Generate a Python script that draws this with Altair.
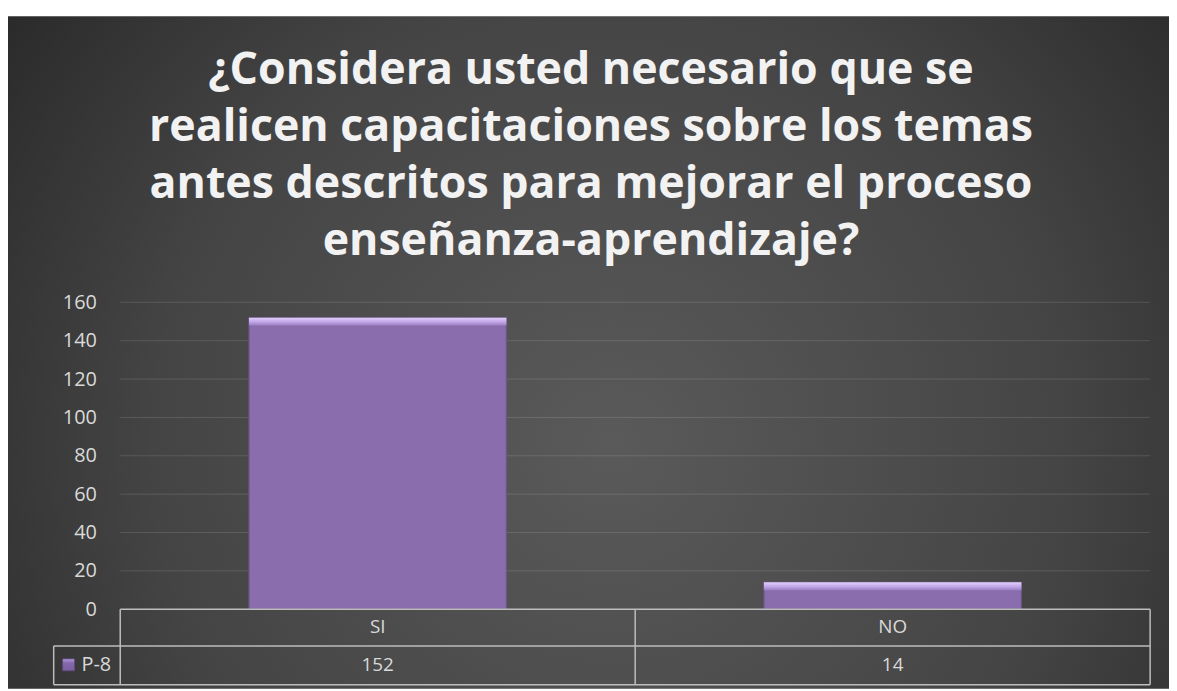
import altair as alt
import pandas as pd

# ---- data ----
categories = ["SI", "NO"]
values = [152, 14]
series_name = "P-8"
y_ticks = [0, 20, 40, 60, 80, 100, 120, 140, 160]
title_lines = [
    "¿Considera usted necesario que se",
    "realicen capacitaciones sobre los temas",
    "antes descritos para mejorar el proceso",
    "enseñanza-aprendizaje?",
]

df = pd.DataFrame({"cat": categories, "val": values, "serie": [series_name] * len(categories)})
grid_df = pd.DataFrame({"val": y_ticks[1:]})
one = alt.Data(values=[{"k": 1}])

W, H = 1037, 309
PAD = {"left": 113, "top": 294, "right": 19, "bottom": 80}
FONT = "Open Sans"
TXT = "#d9d9d9"
LINE = "#bdbdbd"

x_enc = alt.X("cat:N", sort=categories, axis=None,
              scale=alt.Scale(paddingInner=0.5, paddingOuter=0.25))
y_scale = alt.Scale(domain=[0, 160], nice=False)
y_axis = alt.Axis(values=y_ticks, title=None, domain=False, ticks=False, grid=False,
                  labelColor=TXT, labelFontSize=20, labelFont=FONT, labelPadding=24, zindex=2)
y_enc = alt.Y("val:Q", scale=y_scale, axis=y_axis)

# background (radial gradient)
bg = alt.Chart(one).mark_rect(
    fill=alt.RadialGradient(
        gradient="radial", x1=0.52, y1=0.58, r1=0, x2=0.52, y2=0.58, r2=0.72,
        stops=[alt.GradientStop(offset=0, color="#5a5a5a"),
               alt.GradientStop(offset=0.55, color="#444444"),
               alt.GradientStop(offset=1, color="#222222")],
    )
).encode(x=alt.value(-PAD["left"]), x2=alt.value(W + PAD["right"]),
         y=alt.value(-288), y2=alt.value(H + PAD["bottom"]))

# gridlines
grid = alt.Chart(grid_df).mark_rule(color="#ffffff", opacity=0.13, strokeWidth=1).encode(
    y=y_enc, x=alt.value(0), x2=alt.value(W),
)

bars = alt.Chart(df).mark_bar(fill="#8a6dac", stroke="#6a5488", strokeWidth=1.2).encode(
    x=x_enc, y=y_enc,
)

bevel = alt.Chart(df).mark_bar(
    y2Offset=8,
    fill=alt.LinearGradient(
        gradient="linear", x1=0, y1=0, x2=0, y2=1,
        stops=[alt.GradientStop(offset=0, color="#e2cffa"),
               alt.GradientStop(offset=0.5, color="#c3a8ea"),
               alt.GradientStop(offset=1, color="#9a7fc0")],
    ),
).encode(x=x_enc, y=y_enc, y2=alt.Y2("val:Q"))

# title
title = alt.Chart(one).mark_text(
    font=FONT, fontSize=45, fontWeight="bold", color="#f2f2f2",
    align="center", baseline="alphabetic", lineBreak="\n", lineHeight=57.5,
).encode(x=alt.value(474), y=alt.value(-220), text=alt.value("\n".join(title_lines)))

# data table lines
def rule(x1, x2, y1, y2):
    return alt.Chart(one).mark_rule(color=LINE, strokeWidth=1.5).encode(
        x=alt.value(x1), x2=alt.value(x2), y=alt.value(y1), y2=alt.value(y2))

table_lines = [
    rule(0, W, H, H),
    rule(-67, W, 346, 346),
    rule(-67, W, 385, 385),
    rule(-67, -67, 346, 385),
    rule(0, 0, H, 385),
    rule(W / 2, W / 2, H, 385),
    rule(W, W, H, 385),
]

cat_text = alt.Chart(df).mark_text(font=FONT, fontSize=19, color=TXT, baseline="middle").encode(
    x=x_enc, y=alt.value(327), text="cat:N")
val_text = alt.Chart(df).mark_text(font=FONT, fontSize=19, color=TXT, baseline="middle").encode(
    x=x_enc, y=alt.value(365), text="val:Q")

legend_key = alt.Chart(one).mark_rect(
    stroke="#5e4a7e", strokeWidth=0.8,
    fill=alt.LinearGradient(
        gradient="linear", x1=0, y1=0, x2=0, y2=1,
        stops=[alt.GradientStop(offset=0, color="#b79be0"),
               alt.GradientStop(offset=0.35, color="#8468ab"),
               alt.GradientStop(offset=1, color="#7a5ea0")],
    ),
).encode(x=alt.value(-58), x2=alt.value(-46), y=alt.value(359), y2=alt.value(371))

legend_text = alt.Chart(df.head(1)).mark_text(
    font=FONT, fontSize=20, color=TXT, align="left", baseline="middle"
).encode(x=alt.value(-39), y=alt.value(365), text="serie:N")

chart = alt.layer(
    bg, grid, bars, bevel, title, *table_lines,
    cat_text, val_text, legend_key, legend_text,
).properties(
    width=W, height=H, autosize="none", padding=PAD,
).configure(background="white").configure_view(stroke=None)

chart.save("out.html", embed_options={"renderer": "svg", "actions": False})
